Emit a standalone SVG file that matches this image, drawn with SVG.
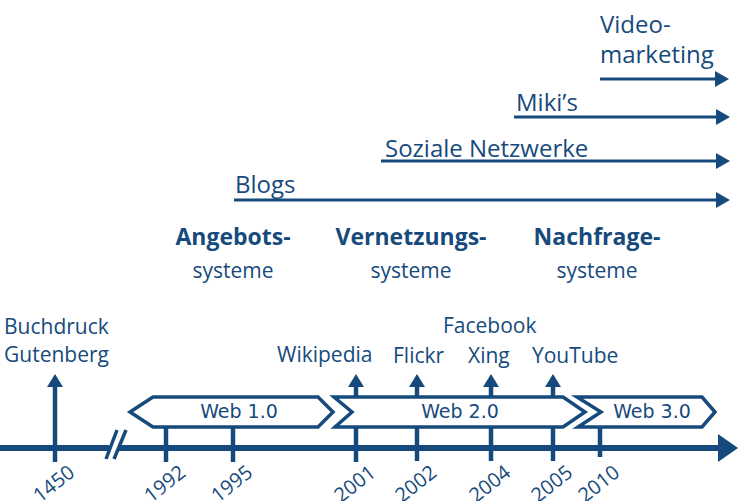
<svg xmlns="http://www.w3.org/2000/svg" width="740" height="501" viewBox="0 0 740 501">
<style>
.t{font-family:"Open Sans","Liberation Sans",sans-serif;fill:#174a7c}
.top{font-size:24px}
.lab{font-size:21px}
.b{font-weight:bold;font-size:23px}
.yr{font-family:"Open Sans","Liberation Sans",sans-serif;fill:#174a7c;font-size:20px;text-anchor:end}
.web{font-family:"DejaVu Sans","Liberation Sans",sans-serif;fill:#174a7c;font-size:19px;text-anchor:middle}
.ln{stroke:#174a7c;fill:none}
.box{stroke:#174a7c;stroke-width:3.5;fill:#fff;stroke-linejoin:miter}
.hd{fill:#174a7c}
</style>
<defs>
<path id="headR" d="M-14,-8 L0,0 L-14,8 z"/>
<path id="headU" d="M-8,13 L0,0 L8,13 z"/>
</defs>

<g id="trend-arrows">
<g id="videomarketing">
<text class="t top" x="600" y="33">Video-</text>
<text class="t top" x="600" y="63">marketing</text>
<line class="ln" x1="600" y1="79" x2="717" y2="79" stroke-width="3"/>
<use href="#headR" class="hd" x="729" y="79"/>
</g>
<g id="mikis">
<text class="t top" x="516" y="111">Miki’s</text>
<line class="ln" x1="514" y1="117" x2="718" y2="117" stroke-width="3"/>
<use href="#headR" class="hd" x="730" y="117"/>
</g>
<g id="soziale-netzwerke">
<text class="t top" x="385" y="157">Soziale Netzwerke</text>
<line class="ln" x1="381" y1="161" x2="718" y2="161" stroke-width="3"/>
<use href="#headR" class="hd" x="730" y="161"/>
</g>
<g id="blogs">
<text class="t top" x="235" y="193">Blogs</text>
<line class="ln" x1="234" y1="200" x2="718" y2="200" stroke-width="3"/>
<use href="#headR" class="hd" x="730" y="200"/>
</g>
</g>

<g id="systems">
<g id="angebotssysteme">
<text class="t b" x="233" y="245" text-anchor="middle">Angebots-</text>
<text class="t lab" x="233" y="278" text-anchor="middle">systeme</text>
</g>
<g id="vernetzungssysteme">
<text class="t b" x="411" y="245" text-anchor="middle">Vernetzungs-</text>
<text class="t lab" x="411" y="278" text-anchor="middle">systeme</text>
</g>
<g id="nachfragesysteme">
<text class="t b" x="597" y="245" text-anchor="middle">Nachfrage-</text>
<text class="t lab" x="597" y="278" text-anchor="middle">systeme</text>
</g>
</g>

<g id="events">
<text class="t lab" x="4" y="334">Buchdruck</text>
<text class="t lab" x="4" y="362">Gutenberg</text>
<text class="t lab" x="277" y="362">Wikipedia</text>
<text class="t lab" x="393" y="363">Flickr</text>
<text class="t lab" x="443" y="333">Facebook</text>
<text class="t lab" x="468" y="363">Xing</text>
<text class="t lab" x="532" y="363">YouTube</text>
</g>

<g id="connectors">
<g class="ln" stroke-width="4.5">
<line x1="55" y1="462" x2="55" y2="384"/>
<line x1="166" y1="462" x2="166" y2="412"/>
<line x1="233" y1="462" x2="233" y2="412"/>
<line x1="356" y1="462" x2="356" y2="384"/>
<line x1="417" y1="461" x2="417" y2="384"/>
<line x1="491" y1="461" x2="491" y2="384"/>
<line x1="553" y1="461" x2="553" y2="384"/>
<line x1="600" y1="457" x2="600" y2="412"/>
</g>
<g class="hd">
<use href="#headU" x="55" y="374"/>
<use href="#headU" x="356" y="374"/>
<use href="#headU" x="417" y="374"/>
<use href="#headU" x="491" y="374"/>
<use href="#headU" x="553" y="374"/>
</g>
<g id="axis">
<line class="ln" x1="0" y1="448" x2="109" y2="448" stroke-width="6"/>
<line class="ln" x1="119" y1="448" x2="720" y2="448" stroke-width="6"/>
<line class="ln" x1="106" y1="459" x2="117" y2="430" stroke-width="3.5"/>
<line class="ln" x1="114" y1="459" x2="126" y2="430" stroke-width="3.5"/>
<path class="hd" d="M718,434 L738,448 L718,462 z"/>
</g>
</g>

<g id="web10">
<path class="box" d="M130,412 L153,397 L318,397 L333,412 L318,427 L153,427 z"/>
<text class="web" x="239" y="418">Web 1.0</text>
</g>
<g id="web20">
<path class="box" d="M334,397 L563,397 L585,412 L563,427 L335,427 L352,412 z"/>
<text class="web" x="460" y="418">Web 2.0</text>
</g>
<g id="web30">
<path class="box" d="M577,397 L702,397 L715,412 L702,427 L578,427 L601,412 z"/>
<text class="web" x="652" y="418">Web 3.0</text>
</g>

<g id="years">
<text class="yr" transform="translate(76,475) rotate(-38)">1450</text>
<text class="yr" transform="translate(187,475) rotate(-38)">1992</text>
<text class="yr" transform="translate(254,475) rotate(-38)">1995</text>
<text class="yr" transform="translate(377,475) rotate(-38)">2001</text>
<text class="yr" transform="translate(438,475) rotate(-38)">2002</text>
<text class="yr" transform="translate(512,475) rotate(-38)">2004</text>
<text class="yr" transform="translate(574,475) rotate(-38)">2005</text>
<text class="yr" transform="translate(621,475) rotate(-38)">2010</text>
</g>
</svg>
